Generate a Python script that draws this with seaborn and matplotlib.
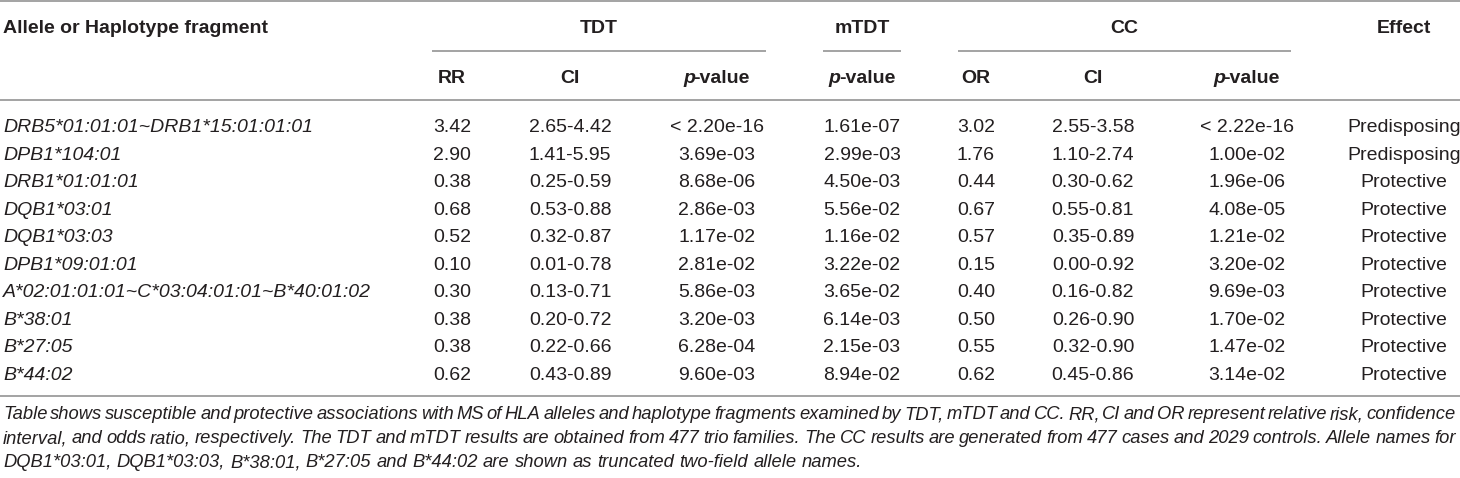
import matplotlib
matplotlib.use('Agg')
from matplotlib import pyplot as plt
import seaborn as sns
import pandas as pd

# table contents
alleles = ['DRB5*01:01:01~DRB1*15:01:01:01', 'DPB1*104:01', 'DRB1*01:01:01', 'DQB1*03:01',
           'DQB1*03:03', 'DPB1*09:01:01', 'A*02:01:01:01~C*03:04:01:01~B*40:01:02',
           'B*38:01', 'B*27:05', 'B*44:02']
tdt_rr = ['3.42', '2.90', '0.38', '0.68', '0.52', '0.10', '0.30', '0.38', '0.38', '0.62']
tdt_ci = ['2.65-4.42', '1.41-5.95', '0.25-0.59', '0.53-0.88', '0.32-0.87', '0.01-0.78',
          '0.13-0.71', '0.20-0.72', '0.22-0.66', '0.43-0.89']
tdt_p = ['< 2.20e-16', '3.69e-03', '8.68e-06', '2.86e-03', '1.17e-02', '2.81e-02',
         '5.86e-03', '3.20e-03', '6.28e-04', '9.60e-03']
mtdt_p = ['1.61e-07', '2.99e-03', '4.50e-03', '5.56e-02', '1.16e-02', '3.22e-02',
          '3.65e-02', '6.14e-03', '2.15e-03', '8.94e-02']
cc_or = ['3.02', '1.76', '0.44', '0.67', '0.57', '0.15', '0.40', '0.50', '0.55', '0.62']
cc_ci = ['2.55-3.58', '1.10-2.74', '0.30-0.62', '0.55-0.81', '0.35-0.89', '0.00-0.92',
         '0.16-0.82', '0.26-0.90', '0.32-0.90', '0.45-0.86']
cc_p = ['< 2.22e-16', '1.00e-02', '1.96e-06', '4.08e-05', '1.21e-02', '3.20e-02',
        '9.69e-03', '1.70e-02', '1.47e-02', '3.14e-02']
effect = ['Predisposing', 'Predisposing', 'Protective', 'Protective', 'Protective',
          'Protective', 'Protective', 'Protective', 'Protective', 'Protective']

groups = ['TDT', 'mTDT', 'CC']
caption = [
    'Table shows susceptible and protective associations with MS of HLA alleles and haplotype '
    'fragments examined by TDT, mTDT and CC. RR, CI and OR represent relative risk, confidence',
    'interval, and odds ratio, respectively. The TDT and mTDT results are obtained from 477 trio '
    'families. The CC results are generated from 477 cases and 2029 controls. Allele names for',
    'DQB1*03:01, DQB1*03:03, B*38:01, B*27:05 and B*44:02 are shown as truncated two-field allele names.',
]

df = pd.DataFrame({'allele': alleles, 'rr': tdt_rr, 'tdt_ci': tdt_ci, 'tdt_p': tdt_p,
                   'mtdt_p': mtdt_p, 'or': cc_or, 'cc_ci': cc_ci, 'cc_p': cc_p,
                   'effect': effect})

sns.set_theme(style='white')
plt.rcParams['font.family'] = ['Liberation Sans', 'DejaVu Sans']

W, H = 1460, 478
fig = plt.figure(figsize=(W / 100, H / 100), dpi=100)
ax = fig.add_axes([0, 0, 1, 1])
ax.set_xlim(0, W)
ax.set_ylim(H, 0)
ax.axis('off')

txt = '#231f20'
rule = '#a3a3a3'
fs = 14
renderer = fig.canvas.get_renderer()

# column centres (pixels)
col_x = {'rr': 452, 'tdt_ci': 570, 'tdt_p': 717, 'mtdt_p': 862,
         'or': 976, 'cc_ci': 1093, 'cc_p': 1247, 'effect': 1404}
group_span = {'TDT': (432, 766), 'mTDT': (823, 901), 'CC': (958, 1291)}

# rules
ax.hlines([1, 100, 396], 0, W, color=rule, lw=1.4)
for g in groups:
    x0, x1 = group_span[g]
    ax.hlines(51, x0, x1, color=rule, lw=1.4)
    ax.text((x0 + x1) / 2, 33, g, ha='center', va='baseline', fontsize=fs,
            fontweight='bold', color=txt)

ax.text(3, 33, 'Allele or Haplotype fragment', ha='left', va='baseline', fontsize=fs,
        fontweight='bold', color=txt)
ax.text(col_x['effect'], 33, 'Effect', ha='center', va='baseline', fontsize=fs,
        fontweight='bold', color=txt)


def pvalue_header(xc, y):
    t1 = ax.text(0, y, 'p', ha='left', va='baseline', fontsize=fs, fontweight='bold',
                 fontstyle='italic', color=txt)
    t2 = ax.text(0, y, '-value', ha='left', va='baseline', fontsize=fs, fontweight='bold',
                 color=txt)
    w1 = t1.get_window_extent(renderer).width - 2
    w2 = t2.get_window_extent(renderer).width
    left = xc - (w1 + w2) / 2
    t1.set_x(left)
    t2.set_x(left + w1)


for key, label in [('rr', 'RR'), ('tdt_ci', 'CI'), ('or', 'OR'), ('cc_ci', 'CI')]:
    ax.text(col_x[key], 83, label, ha='center', va='baseline', fontsize=fs,
            fontweight='bold', color=txt)
for key in ['tdt_p', 'mtdt_p', 'cc_p']:
    pvalue_header(col_x[key], 83)

# body rows
row_y0, row_step = 132, 27.56
for i, row in df.iterrows():
    y = row_y0 + i * row_step
    ax.text(3, y, row['allele'], ha='left', va='baseline', fontsize=fs,
            fontstyle='italic', color=txt)
    for key in col_x:
        ax.text(col_x[key], y, row[key], ha='center', va='baseline', fontsize=fs, color=txt)


# caption, first two lines justified
def caption_line(line, y, justify):
    words = line.split(' ')
    ts = [ax.text(0, y, w, ha='left', va='baseline', fontsize=13.2, fontstyle='italic',
                  color=txt) for w in words]
    widths = [t.get_window_extent(renderer).width for t in ts]
    space = ax.text(0, y, 'a a', fontsize=13.2, fontstyle='italic')
    sw = space.get_window_extent(renderer).width
    aw = ax.text(0, y, 'aa', fontsize=13.2, fontstyle='italic')
    sw = sw - aw.get_window_extent(renderer).width
    space.remove()
    aw.remove()
    if justify:
        gap = (1456 - 3 - sum(widths)) / (len(words) - 1)
    else:
        gap = sw
    x = 3
    for t, w in zip(ts, widths):
        t.set_x(x)
        x += w + gap


cap_y = [419, 443, 467]
for j, line in enumerate(caption):
    caption_line(line, cap_y[j], j < 2)

fig.savefig('out.png', dpi=100)
